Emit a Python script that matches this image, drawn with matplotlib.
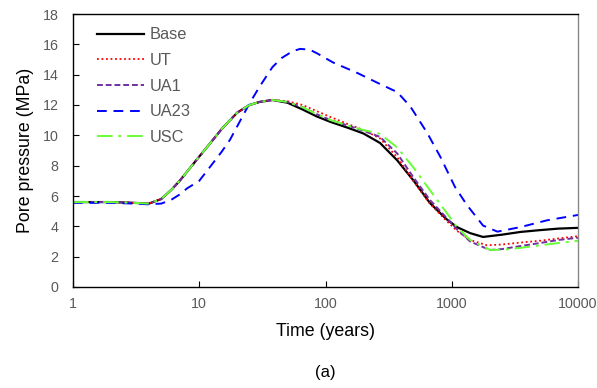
import matplotlib
matplotlib.use("Agg")
import matplotlib.pyplot as plt

plt.rcParams['font.family'] = ['Liberation Sans', 'DejaVu Sans']

# ---- data ----
t_base = [1, 2, 3, 4, 5, 6, 7, 8, 10, 12, 15, 20, 25, 30, 38, 50, 66, 85, 110,
          150, 200, 270, 370, 500, 670, 900, 1100, 1400, 1770, 2500, 3500, 5000, 7000, 10000]
p_base = [5.6, 5.6, 5.55, 5.5, 5.8, 6.4, 7.0, 7.6, 8.6, 9.4, 10.4, 11.5, 12.0, 12.2, 12.33,
          12.15, 11.7, 11.25, 10.88, 10.5, 10.12, 9.5, 8.35, 7.0, 5.55, 4.5, 3.95, 3.55, 3.3,
          3.45, 3.63, 3.75, 3.85, 3.9]

t_ut = [1, 2, 3, 4, 5, 6, 7, 8, 10, 12, 15, 20, 25, 30, 38, 50, 66, 85, 110,
        150, 200, 270, 370, 500, 670, 900, 1100, 1400, 1900, 2500, 3500, 5000, 7000, 10000]
p_ut = [5.6, 5.6, 5.55, 5.5, 5.8, 6.4, 7.0, 7.6, 8.6, 9.4, 10.4, 11.5, 12.0, 12.2, 12.35,
        12.25, 12.0, 11.6, 11.2, 10.75, 10.35, 9.8, 8.55, 6.95, 5.5, 4.4, 3.7, 3.1, 2.75,
        2.8, 2.93, 3.05, 3.2, 3.35]

t_ua1 = [1, 2, 3, 4, 5, 6, 7, 8, 10, 12, 15, 20, 25, 30, 38, 50, 66, 85, 110,
         150, 200, 270, 370, 500, 670, 900, 1100, 1400, 2000, 2500, 3500, 5000, 7000, 10000]
p_ua1 = [5.6, 5.6, 5.55, 5.5, 5.8, 6.4, 7.0, 7.6, 8.6, 9.4, 10.4, 11.5, 12.0, 12.2, 12.33,
         12.2, 11.85, 11.4, 11.0, 10.65, 10.3, 9.9, 8.8, 7.2, 5.75, 4.6, 3.8, 3.0, 2.44,
         2.5, 2.7, 2.9, 3.1, 3.25]

t_ua23 = [1, 2, 3, 4, 5, 6, 7, 8, 10, 12, 15, 17.5, 20, 25, 30, 38, 45, 55, 63, 75, 86,
          115, 180, 260, 370, 470, 640, 810, 1060, 1320, 1770, 2300, 3500, 5700, 10000]
p_ua23 = [5.55, 5.55, 5.5, 5.45, 5.5, 5.75, 6.1, 6.5, 7.0, 7.85, 8.9, 9.7, 10.6, 12.1, 13.2,
          14.5, 15.1, 15.55, 15.7, 15.65, 15.4, 14.8, 14.1, 13.45, 12.85, 11.9, 10.15, 8.6,
          6.6, 5.4, 4.05, 3.65, 3.95, 4.4, 4.75]

t_usc = [1, 2, 3, 4, 5, 6, 7, 8, 10, 12, 15, 20, 25, 30, 38, 50, 66, 85, 110,
         150, 200, 270, 370, 500, 670, 900, 1100, 1400, 2000, 2500, 3500, 5000, 7000, 10000]
p_usc = [5.6, 5.6, 5.55, 5.5, 5.8, 6.4, 7.0, 7.6, 8.6, 9.4, 10.4, 11.5, 12.0, 12.2, 12.33,
         12.2, 11.85, 11.4, 11.0, 10.65, 10.35, 10.1, 9.2, 7.85, 6.4, 4.95, 3.96, 3.1, 2.45,
         2.45, 2.58, 2.75, 2.9, 3.05]

series_labels = ["Base", "UT", "UA1", "UA23", "USC"]
x_ticks = [1, 10, 100, 1000, 10000]
x_tick_labels = ["1", "10", "100", "1000", "10000"]
y_ticks = [0, 2, 4, 6, 8, 10, 12, 14, 16, 18]

# ---- figure ----
fig = plt.figure(figsize=(5.97, 3.88), dpi=100)
ax = fig.add_axes([73/597, 1-287/388, (578-73)/597, (287-14)/388])

ax.plot(t_base, p_base, color='black', lw=1.6, label=series_labels[0])
ax.plot(t_ut, p_ut, color='#FF0000', lw=1.3, linestyle=(0, (1, 1.5)), label=series_labels[1])
ax.plot(t_ua1, p_ua1, color='#7030A0', lw=1.4, linestyle=(0, (3, 1.5)), label=series_labels[2])
ax.plot(t_ua23, p_ua23, color='#0000FF', lw=1.4, linestyle=(0, (5, 3.5)), label=series_labels[3])
ax.plot(t_usc, p_usc, color='#66FF33', lw=1.4, linestyle=(0, (8, 3, 1.5, 3)), label=series_labels[4])

ax.set_xscale('log')
ax.set_xlim(1, 10000)
ax.set_ylim(0, 18)
ax.set_xticks(x_ticks)
ax.set_xticklabels(x_tick_labels)
ax.xaxis.set_minor_locator(matplotlib.ticker.NullLocator())
ax.set_yticks(y_ticks)

tick_color = '#595959'
ax.tick_params(axis='both', direction='in', length=4, width=0.8, labelsize=10.3,
               labelcolor=tick_color)
ax.tick_params(axis='y', pad=10.5)
ax.tick_params(axis='x', pad=7.5)
for s in ax.spines.values():
    s.set_linewidth(1.0)
    s.set_color('black')
ax.spines['right'].set_color('#888888')

ax.set_xlabel("Time (years)", fontsize=12.8, labelpad=8)
ax.set_ylabel("Pore pressure (MPa)", fontsize=12.8, labelpad=6)

leg = ax.legend(loc='upper left', frameon=False, fontsize=11.8, handlelength=2.9,
                handletextpad=0.3, labelspacing=0.65, bbox_to_anchor=(0.018, 1.005))
for txt in leg.get_texts():
    txt.set_color(tick_color)

fig.text(325.5/597, 1-372/388, "(a)", ha='center', va='center', fontsize=12)

fig.savefig("out.png", dpi=100)
